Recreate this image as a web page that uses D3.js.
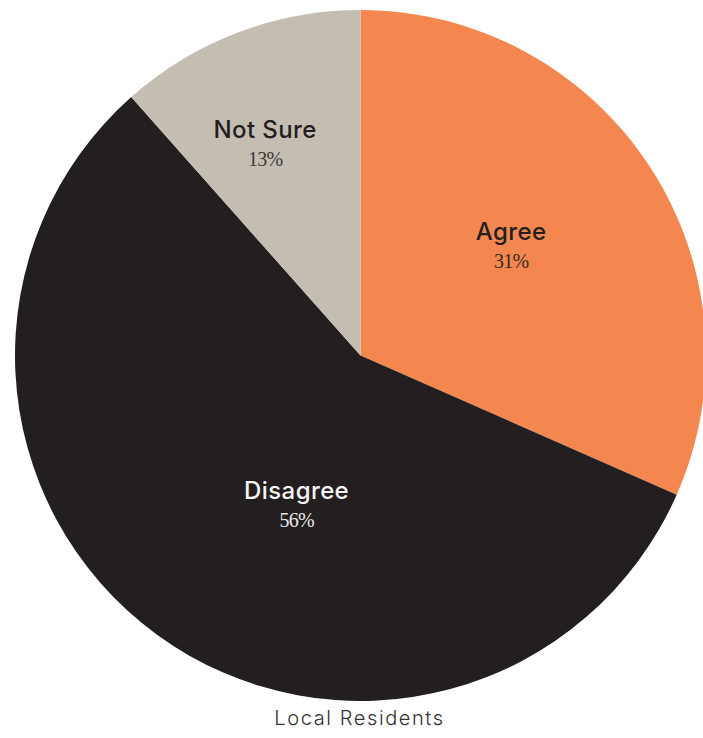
<!DOCTYPE html>
<html>
<head>
<meta charset="utf-8">
<script src="https://cdn.jsdelivr.net/npm/d3@7"></script>
<style>
  html, body { margin: 0; padding: 0; background: #ffffff; }
  svg { display: block; }
</style>
</head>
<body>
<svg id="chart" width="703" height="738"></svg>
<script>
// ---- data ----
const categories = ["Agree", "Disagree", "Not Sure"];
const shares = [31.6, 56.85, 11.55];          // slice sizes
const shareLabels = ["31%", "56%", "13%"];     // printed labels
const chartTitle = "Local Residents";

// ---- layout ----
const W = 703, H = 738;
const cx = 360.5, cy = 355.5, R = 345.5;
const colors = ["#F3874F", "#231F20", "#C4BEB2"];
const nameColors = ["#231F20", "#F4F4F4", "#231F20"];
const pctColors = ["#3a2a22", "#E8E8E8", "#3a3a3a"];
// label anchor: radius fraction and angular nudge (radians) for readability
const labelRadiusFrac = [0.535, 0.475, 0.665];
const labelAngleNudge = [-0.04, -0.23, -0.065];

const svg = d3.select("#chart");
const g = svg.append("g").attr("transform", `translate(${cx},${cy})`);

const data = categories.map((c, i) => ({ name: c, value: shares[i], label: shareLabels[i], i }));

const pie = d3.pie().value(d => d.value).sort(null);
const arc = d3.arc().innerRadius(0).outerRadius(R);
const arcs = pie(data);

g.selectAll("path.slice")
  .data(arcs)
  .join("path")
  .attr("class", "slice")
  .attr("d", arc)
  .attr("fill", d => colors[d.data.i]);

const labels = g.selectAll("g.lbl")
  .data(arcs)
  .join("g")
  .attr("class", "lbl")
  .attr("transform", d => {
    const a = (d.startAngle + d.endAngle) / 2 + labelAngleNudge[d.data.i];
    const r = R * labelRadiusFrac[d.data.i];
    return `translate(${r * Math.sin(a)},${-r * Math.cos(a)})`;
  });

labels.append("text")
  .attr("text-anchor", "middle")
  .attr("y", -8)
  .attr("font-family", "Inter, 'Noto Sans', sans-serif")
  .attr("font-weight", 500)
  .attr("font-size", 24)
  .attr("letter-spacing", 0.4)
  .attr("fill", d => nameColors[d.data.i])
  .text(d => d.data.name);

labels.append("text")
  .attr("text-anchor", "middle")
  .attr("y", 20)
  .attr("font-family", "'Liberation Serif', 'DejaVu Serif', serif")
  .attr("font-size", 20)
  .attr("letter-spacing", -0.8)
  .attr("fill", d => pctColors[d.data.i])
  .text(d => d.data.label);

svg.append("text")
  .attr("x", cx - 1)
  .attr("y", 725)
  .attr("text-anchor", "middle")
  .attr("font-family", "Inter, 'Noto Sans', sans-serif")
  .attr("font-weight", 300)
  .attr("font-size", 20)
  .attr("letter-spacing", 1.6)
  .attr("fill", "#333333")
  .text(chartTitle);
</script>
</body>
</html>
